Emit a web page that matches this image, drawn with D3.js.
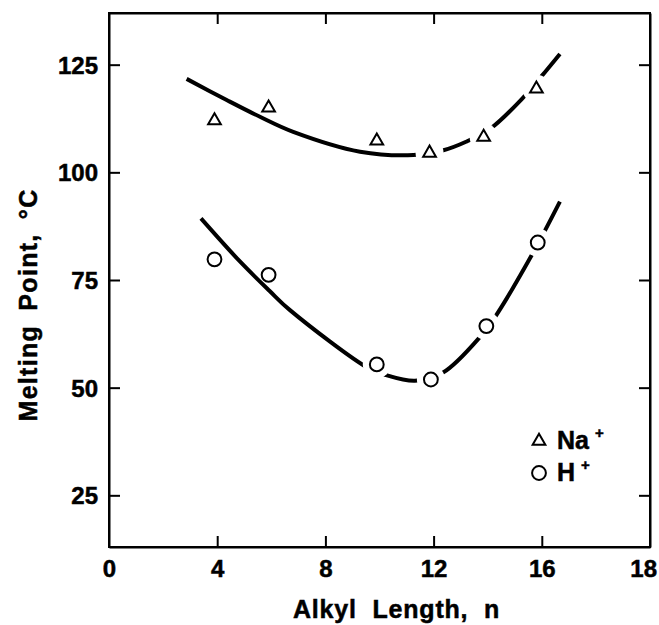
<!DOCTYPE html>
<html>
<head>
<meta charset="utf-8">
<script src="https://cdn.jsdelivr.net/npm/d3@7"></script>
<style>
  html, body { margin: 0; padding: 0; background: #fff; }
  svg { display: block; }
  text { font-family: "Liberation Sans", Arial, Helvetica, sans-serif; font-weight: bold; fill: #000;
         stroke: #000; stroke-width: 0.5px; }
</style>
</head>
<body>
<svg id="chart" width="659" height="625"></svg>
<script>
// Alkyl chain length n and melting point (°C) of the two salt forms
const nNa  = [3.9, 5.9, 9.9, 11.85, 13.85, 15.8];
const mpNa = [112.0, 115.0, 107.3, 104.5, 108.2, 119.4];
const nH   = [3.9, 5.9, 9.9, 11.9, 13.95, 15.85];
const mpH  = [79.8, 76.2, 55.4, 51.9, 64.3, 83.7];

// Smoothed trend curves drawn through the data
const fitNaN = [2.87, 4.35, 5.58, 6.81, 9.28, 11.25, 12.3, 13.2, 14.11, 15.26, 16.0, 16.67];
const fitNaV = [121.7, 116.8, 112.9, 109.4, 104.8, 104.0, 105.0, 107.1, 110.2, 117.0, 122.4, 127.5];
const fitHN  = [3.4, 4.84, 5.93, 6.69, 9.59, 10.2, 11.31, 12.35, 13.72, 14.27, 15.63, 16.67];
const fitHV  = [89.3, 79.3, 72.5, 68.0, 54.5, 53.0, 51.6, 53.5, 61.8, 66.4, 80.8, 93.2];

// Axes
const xTicks = [0, 4, 8, 12, 16];
const xEndLabel = "18";
const yTicks = [25, 50, 75, 100, 125];
const xTitle = "Alkyl Length, n";
const yTitle = "Melting Point, °C";
const legendIons = ["Na", "H"];
const legendCharge = "+";

const svg = d3.select("#chart");
const plotLeft = 109, plotRight = 650, plotTop = 13, plotBottom = 547;

const x = d3.scaleLinear().domain([0, 20]).range([plotLeft, plotRight]);
const y = d3.scaleLinear().domain([13, 137]).range([plotBottom, plotTop]);

const tickLen = 11;
const axisStyle = g => {
  g.selectAll("path.domain").attr("stroke", "#000").attr("stroke-width", 2);
  g.selectAll(".tick line").attr("stroke", "#000").attr("stroke-width", 2);
};

// Bottom axis with inward ticks
svg.append("g")
  .attr("transform", `translate(0,${plotBottom})`)
  .call(d3.axisBottom(x).tickValues(xTicks).tickSize(-tickLen).tickSizeOuter(0).tickPadding(13)
    .tickFormat(d3.format("d")))
  .call(axisStyle)
  .call(g => g.selectAll(".tick text").attr("font-size", 24).attr("dy", "0.72em"))
  .call(g => g.selectAll(".tick").filter(d => d === 0).select("line").remove());

// Label at the far end of the x axis
svg.append("text")
  .attr("x", x(20) + 7).attr("y", plotBottom + 30)
  .attr("text-anchor", "end").attr("font-size", 24)
  .text(xEndLabel);

// Top axis
svg.append("g")
  .attr("transform", `translate(0,${plotTop})`)
  .call(d3.axisTop(x).tickValues(xTicks.filter(d => d > 0)).tickSize(-tickLen).tickSizeOuter(0).tickFormat(""))
  .call(axisStyle);

// Left axis
svg.append("g")
  .attr("transform", `translate(${plotLeft},0)`)
  .call(d3.axisLeft(y).tickValues(yTicks).tickSize(-tickLen).tickSizeOuter(0).tickPadding(11))
  .call(axisStyle)
  .call(g => g.selectAll(".tick text").attr("font-size", 24).attr("dy", "0.36em"));

// Right axis
svg.append("g")
  .attr("transform", `translate(${plotRight},0)`)
  .call(d3.axisRight(y).tickValues(yTicks).tickSize(-tickLen).tickSizeOuter(0).tickFormat(""))
  .call(axisStyle);

// Frame so the corners meet cleanly
svg.append("rect")
  .attr("x", plotLeft).attr("y", plotTop)
  .attr("width", plotRight - plotLeft).attr("height", plotBottom - plotTop)
  .attr("fill", "none").attr("stroke", "#000").attr("stroke-width", 2);

// Axis titles
svg.append("text")
  .attr("x", 293).attr("y", 618)
  .attr("font-size", 25)
  .style("letter-spacing", "0.8px")
  .style("word-spacing", "8px")
  .text(xTitle);

svg.append("text")
  .attr("transform", "translate(37,305) rotate(-90)")
  .attr("text-anchor", "middle")
  .attr("font-size", 25)
  .style("letter-spacing", "1.3px")
  .style("word-spacing", "6px")
  .text(yTitle);

// Trend curves
const line = d3.line()
  .x(d => x(d[0])).y(d => y(d[1]))
  .curve(d3.curveCatmullRom.alpha(0.5));

const curves = [
  d3.zip(fitNaN, fitNaV),
  d3.zip(fitHN, fitHV)
];
const curvePaths = curves.map(pts =>
  svg.append("path")
    .attr("d", line(pts))
    .attr("fill", "none")
    .attr("stroke", "#000")
    .attr("stroke-width", 4)
    .attr("stroke-linecap", "butt")
    .node()
);

// Distance from a point to a drawn path, sampled along its length
function distToPath(path, px, py) {
  const L = path.getTotalLength();
  let best = Infinity;
  for (let s = 0; s <= L; s += 1) {
    const p = path.getPointAtLength(s);
    const d = Math.hypot(p.x - px, p.y - py);
    if (d < best) best = d;
  }
  return best;
}

// Series markers; the curve is broken where it runs through a marker
const series = [
  { n: nNa, v: mpNa, symbol: d3.symbolTriangle, size: 70, path: curvePaths[0] },
  { n: nH,  v: mpH,  symbol: d3.symbolCircle,   size: 150, path: curvePaths[1] }
];

series.forEach(s => {
  const pts = d3.zip(s.n, s.v);
  const knock = svg.append("g");
  const marks = svg.append("g");
  pts.forEach(([n, v]) => {
    const px = x(n), py = y(v);
    if (distToPath(s.path, px, py) < 8) {
      knock.append("circle").attr("cx", px).attr("cy", py).attr("r", 14).attr("fill", "#fff");
    }
    marks.append("path")
      .attr("transform", `translate(${px},${py})`)
      .attr("d", d3.symbol().type(s.symbol).size(s.size)())
      .attr("fill", "#fff").attr("stroke", "#000").attr("stroke-width", 2);
  });
});

// Legend
const legend = svg.append("g");
const legendSymbols = [d3.symbolTriangle, d3.symbolCircle];
const legendSizes = [70, 150];
legendIons.forEach((ion, i) => {
  const ly = 441 + i * 32;
  legend.append("path")
    .attr("transform", `translate(539,${ly})`)
    .attr("d", d3.symbol().type(legendSymbols[i]).size(legendSizes[i])())
    .attr("fill", "#fff").attr("stroke", "#000").attr("stroke-width", 2);
  const t = legend.append("text")
    .attr("x", 557).attr("y", ly + 8)
    .attr("font-size", 25);
  t.append("tspan").text(ion);
  t.append("tspan").attr("dx", 6).attr("dy", -11).attr("font-size", 15).text(legendCharge);
});
</script>
</body>
</html>
